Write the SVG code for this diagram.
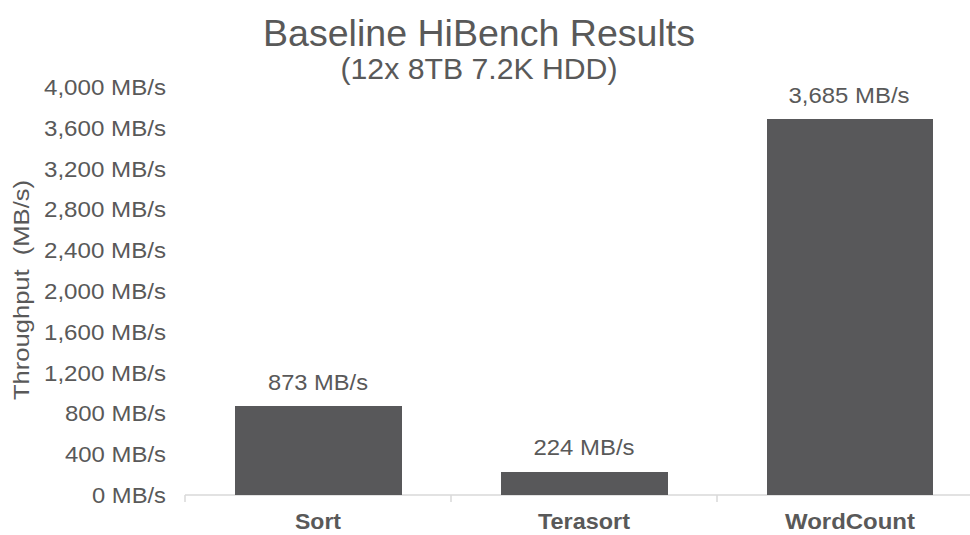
<svg xmlns="http://www.w3.org/2000/svg" width="970" height="535" viewBox="0 0 970 535">
  <style>
    text { font-family: "Liberation Sans", Arial, sans-serif; fill: #595959; }
    .title { font-size: 36px; text-anchor: middle; }
    .subtitle { font-size: 29px; text-anchor: middle; }
    .tick { font-size: 22px; text-anchor: end; }
    .value { font-size: 22px; text-anchor: middle; }
    .cat { font-size: 22px; font-weight: bold; text-anchor: middle; }
    .axis-title { font-size: 22px; text-anchor: middle; }
    .bar { fill: #58585a; }
    .axis { stroke: #d9d9d9; stroke-width: 1.5; fill: none; }
  </style>

  <rect width="970" height="535" fill="#ffffff"/>

  <!-- chart title -->
  <g id="title">
    <text class="title" x="479" y="46" textLength="432" lengthAdjust="spacingAndGlyphs">Baseline HiBench Results</text>
    <text class="subtitle" x="479" y="79" textLength="277" lengthAdjust="spacingAndGlyphs">(12x 8TB 7.2K HDD)</text>
  </g>

  <!-- value axis labels: 0 at y=495, 0.102 px per MB/s -->
  <g id="y-axis">
    <text class="tick" x="166" y="95" textLength="122" lengthAdjust="spacingAndGlyphs">4,000 MB/s</text>
    <text class="tick" x="166" y="135.8" textLength="122" lengthAdjust="spacingAndGlyphs">3,600 MB/s</text>
    <text class="tick" x="166" y="176.6" textLength="122" lengthAdjust="spacingAndGlyphs">3,200 MB/s</text>
    <text class="tick" x="166" y="217.4" textLength="122" lengthAdjust="spacingAndGlyphs">2,800 MB/s</text>
    <text class="tick" x="166" y="258.2" textLength="122" lengthAdjust="spacingAndGlyphs">2,400 MB/s</text>
    <text class="tick" x="166" y="299" textLength="122" lengthAdjust="spacingAndGlyphs">2,000 MB/s</text>
    <text class="tick" x="166" y="339.8" textLength="122" lengthAdjust="spacingAndGlyphs">1,600 MB/s</text>
    <text class="tick" x="166" y="380.6" textLength="122" lengthAdjust="spacingAndGlyphs">1,200 MB/s</text>
    <text class="tick" x="166" y="421.4" textLength="101" lengthAdjust="spacingAndGlyphs">800 MB/s</text>
    <text class="tick" x="166" y="462.2" textLength="101" lengthAdjust="spacingAndGlyphs">400 MB/s</text>
    <text class="tick" x="166" y="503" textLength="74" lengthAdjust="spacingAndGlyphs">0 MB/s</text>
    <text class="axis-title" transform="translate(29 290) rotate(-90)" textLength="220" lengthAdjust="spacingAndGlyphs" xml:space="preserve">Throughput  (MB/s)</text>
  </g>

  <!-- category axis -->
  <g id="x-axis">
    <path class="axis" d="M185 495 H970 M185 495 V502 M451 495 V502 M717 495 V502"/>
  </g>

  <g id="bar-sort">
    <rect class="bar" x="235" y="406" width="167" height="89"/>
    <text class="value" x="318" y="390" textLength="100" lengthAdjust="spacingAndGlyphs">873 MB/s</text>
    <text class="cat" x="318" y="529" textLength="46" lengthAdjust="spacingAndGlyphs">Sort</text>
  </g>

  <g id="bar-terasort">
    <rect class="bar" x="501" y="472" width="167" height="23"/>
    <text class="value" x="584" y="455" textLength="101" lengthAdjust="spacingAndGlyphs">224 MB/s</text>
    <text class="cat" x="584" y="529" textLength="92" lengthAdjust="spacingAndGlyphs">Terasort</text>
  </g>

  <g id="bar-wordcount">
    <rect class="bar" x="767" y="119" width="166" height="376"/>
    <text class="value" x="849" y="103" textLength="121" lengthAdjust="spacingAndGlyphs">3,685 MB/s</text>
    <text class="cat" x="850" y="529" textLength="130" lengthAdjust="spacingAndGlyphs">WordCount</text>
  </g>
</svg>
